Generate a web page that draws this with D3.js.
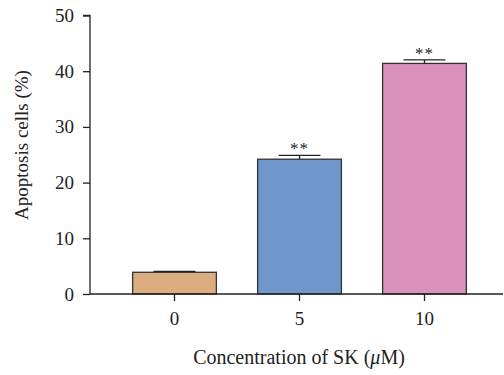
<!DOCTYPE html>
<html lang="en">
  <head>
    <meta charset="utf-8">
    <script src="https://cdn.jsdelivr.net/npm/d3@7"></script>
    <style>
      body { margin: 0; background: #fff; }
      text { font-family: "Liberation Serif", "DejaVu Serif", serif; fill: #222; }
    </style>
  </head>
  <body>
    <script>
    // data
    var categories = ["0", "5", "10"];
    var values = [3.9, 24.2, 41.4];
    var errors = [0.15, 0.7, 0.65];
    var marks = ["", "**", "**"];
    var colors = ["#dcae7f", "#6e96cb", "#da91bc"];
    var yTicks = [0, 10, 20, 30, 40, 50];

    var width = 504, height = 375;

    var svg = d3.select("body").append("svg")
        .attr("width", width)
        .attr("height", height);

    var x = d3.scaleBand()
        .domain(categories)
        .range([112, 487])
        .paddingInner(0.33)
        .paddingOuter(0.165);

    var y = d3.scaleLinear()
        .domain([0, 50])
        .range([294, 15.5]);

    // y axis
    var yAxis = svg.append("g")
        .attr("transform", "translate(90,0)")
        .call(d3.axisLeft(y).tickValues(yTicks).tickSize(7).tickPadding(9));
    yAxis.select(".domain").attr("d", "M-7," + y(50) + "H0V" + y(0));

    // bars
    svg.selectAll(".bar")
        .data(values)
        .enter().append("rect")
          .attr("class", "bar")
          .attr("x", function(d, i) { return x(categories[i]); })
          .attr("y", function(d) { return y(d); })
          .attr("width", x.bandwidth())
          .attr("height", function(d) { return y(0) - y(d); })
          .attr("fill", function(d, i) { return colors[i]; })
          .attr("stroke", "#333")
          .attr("stroke-width", 1.3);

    // error bars (upper only)
    var eb = svg.selectAll(".err")
        .data(values)
        .enter().append("g")
          .attr("class", "err")
          .attr("stroke", "#222")
          .attr("stroke-width", 1.3);
    eb.append("line")
        .attr("x1", function(d, i) { return x(categories[i]) + x.bandwidth() / 2; })
        .attr("x2", function(d, i) { return x(categories[i]) + x.bandwidth() / 2; })
        .attr("y1", function(d) { return y(d); })
        .attr("y2", function(d, i) { return y(d + errors[i]); });
    eb.append("line")
        .attr("x1", function(d, i) { return x(categories[i]) + x.bandwidth() * 0.25; })
        .attr("x2", function(d, i) { return x(categories[i]) + x.bandwidth() * 0.75; })
        .attr("y1", function(d, i) { return y(d + errors[i]); })
        .attr("y2", function(d, i) { return y(d + errors[i]); });

    // significance marks
    svg.selectAll(".sig")
        .data(values)
        .enter().append("text")
          .attr("class", "sig")
          .attr("x", function(d, i) { return x(categories[i]) + x.bandwidth() / 2; })
          .attr("y", function(d, i) { return y(d + errors[i]) - 1; })
          .attr("text-anchor", "middle")
          .style("font-size", "17px")
          .style("letter-spacing", "1px")
          .text(function(d, i) { return marks[i]; });

    // x axis
    var xAxis = svg.append("g")
        .attr("transform", "translate(0," + y(0) + ")")
        .call(d3.axisBottom(x).tickSize(7).tickPadding(11));
    xAxis.select(".domain").attr("d", "M90,0H503");

    svg.selectAll(".tick text").style("font-size", "19px");
    svg.selectAll(".domain, .tick line").attr("stroke", "#222").attr("stroke-width", 1.3);

    // axis titles
    svg.append("text")
        .attr("x", 299)
        .attr("y", 364)
        .attr("text-anchor", "middle")
        .style("font-size", "20px")
        .text("Concentration of SK (")
        .append("tspan").style("font-style", "italic").text("\u03bc")
        .select(function() { return this.parentNode; })
        .append("tspan").text("M)");

    svg.append("text")
        .attr("transform", "translate(28,145) rotate(-90)")
        .attr("text-anchor", "middle")
        .style("font-size", "19px")
        .text("Apoptosis cells (%)");
    </script>
  </body>
</html>
